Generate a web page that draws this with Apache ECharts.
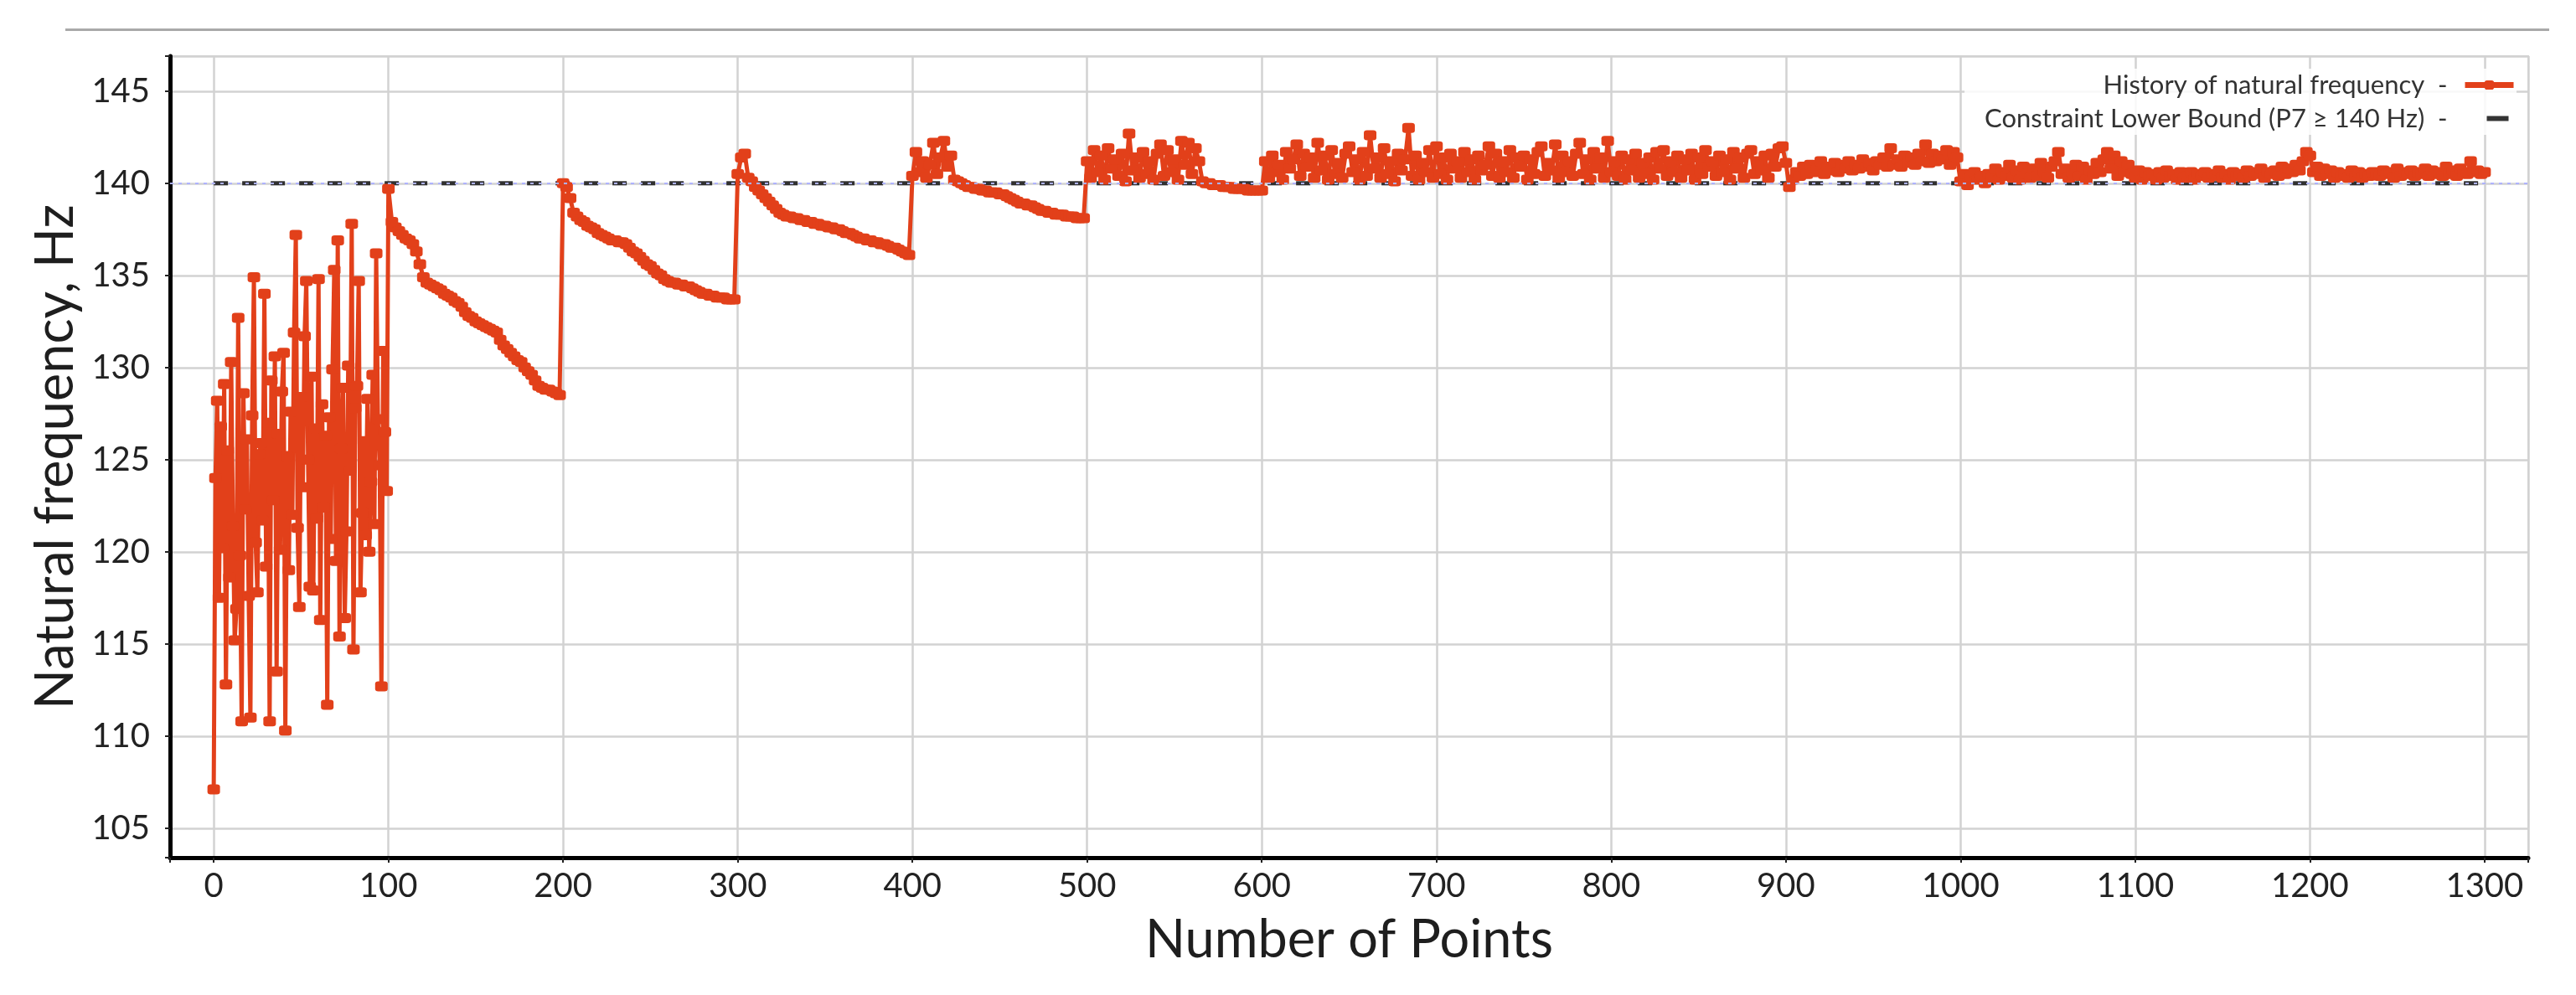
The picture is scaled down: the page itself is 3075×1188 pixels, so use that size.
<!DOCTYPE html>
<html>
<head>
<meta charset="utf-8">
<style>
  html, body { margin: 0; padding: 0; background: #fff; }
  #chart { width: 3075px; height: 1188px; }
  .rule { position: absolute; left: 78px; right: 32px; top: 34px; border-top: 3px solid #a9a9a9; }
</style>
<script src="https://cdn.jsdelivr.net/npm/echarts@6/dist/echarts.min.js"></script>
</head>
<body>
<div id="chart"></div>
<div class="rule"></div>
<script>
    // natural frequency (Hz) per design point
    // points 0..99, every point
    var freqA = [
        107.1, 124.0, 128.2, 117.5, 126.8, 120.2, 129.1, 112.8, 125.5, 118.6,
        130.3, 121.4, 115.2, 116.9, 132.7, 119.8, 110.8, 128.6, 122.3, 126.1,
        117.6, 111.0, 127.4, 134.9, 120.5, 117.8, 125.3, 125.9, 121.7, 134.0,
        119.2, 127.0, 110.8, 129.3, 122.8, 130.6, 113.5, 126.4, 120.1, 128.7,
        130.8, 110.3, 125.2, 119.0, 127.6, 122.0, 131.9, 137.2, 121.3, 117.0,
        128.4, 123.5, 131.7, 134.7, 125.0, 118.1, 129.5, 117.9, 126.7, 121.8,
        134.8, 116.3, 128.0, 122.4, 126.3, 111.7, 127.3, 120.7, 129.9, 135.3,
        119.5, 136.9, 115.4, 125.6, 128.9, 116.4, 121.1, 130.1, 124.4, 137.8,
        114.7, 127.8, 129.0, 134.7, 117.8, 122.1, 126.0, 120.9, 128.3, 120.0,
        123.8, 129.6, 121.5, 136.2, 127.2, 124.7, 112.7, 130.9, 126.5, 123.3
    ];
    // points 100..198, every 2nd point
    var freqB = [
        139.7, 137.9, 137.6, 137.4, 137.2, 137.0, 136.9, 136.7, 136.3, 135.6,
        134.9, 134.6, 134.5, 134.4, 134.3, 134.2, 134.0, 133.9, 133.8, 133.6,
        133.5, 133.3, 133.0, 132.8, 132.7, 132.5, 132.4, 132.3, 132.2, 132.1,
        132.0, 131.9, 131.5, 131.2, 131.0, 130.8, 130.6, 130.4, 130.3, 130.0,
        129.8, 129.6, 129.3, 129.0, 128.9, 128.8, 128.8, 128.7, 128.6, 128.5
    ];
    // points 200..298
    var freqC = [
        140.0, 139.8, 139.2, 138.4, 138.2, 138.0, 137.9, 137.7, 137.6, 137.5,
        137.3, 137.2, 137.1, 137.0, 136.9, 136.9, 136.8, 136.8, 136.7, 136.5,
        136.3, 136.2, 136.0, 135.8, 135.6, 135.5, 135.3, 135.1, 135.0, 134.8,
        134.7, 134.6, 134.6, 134.5, 134.5, 134.4, 134.4, 134.3, 134.2, 134.1,
        134.0, 134.0, 133.9, 133.9, 133.8, 133.8, 133.8, 133.7, 133.7, 133.7
    ];
    // points 300..398
    var freqD = [
        140.5, 141.4, 141.6, 140.3, 140.1, 139.8, 139.6, 139.4, 139.2, 139.0,
        138.8, 138.6, 138.4, 138.3, 138.2, 138.2, 138.1, 138.1, 138.0, 138.0,
        137.9, 137.9, 137.8, 137.8, 137.7, 137.7, 137.6, 137.6, 137.5, 137.5,
        137.4, 137.3, 137.3, 137.2, 137.1, 137.0, 137.0, 136.9, 136.9, 136.8,
        136.8, 136.7, 136.7, 136.6, 136.5, 136.5, 136.4, 136.3, 136.2, 136.1
    ];
    // points 400..498
    var freqE = [
        140.4, 141.7, 140.6, 141.2, 140.3, 141.0, 142.2, 140.5, 141.4, 142.3,
        140.9, 141.5, 140.2, 140.1, 140.0, 139.9, 139.8, 139.8, 139.7, 139.7,
        139.6, 139.6, 139.5, 139.5, 139.5, 139.4, 139.4, 139.3, 139.2, 139.1,
        139.0, 138.9, 138.9, 138.8, 138.8, 138.7, 138.6, 138.5, 138.5, 138.4,
        138.4, 138.3, 138.3, 138.3, 138.2, 138.2, 138.2, 138.1, 138.1, 138.1
    ];
    // points 500..598
    var freqF = [
        141.2, 140.3, 141.8, 140.6, 141.5, 140.2, 141.9, 140.8, 141.3, 140.4,
        141.6, 140.1, 142.7, 140.7, 141.4, 140.3, 141.7, 140.5, 141.2, 140.2,
        141.6, 142.1, 140.4, 141.8, 140.6, 141.3, 140.2, 142.3, 141.0, 142.2,
        140.5, 141.9, 141.2, 140.1, 140.0, 140.0, 139.9, 139.9, 139.9, 139.8,
        139.8, 139.8, 139.7, 139.7, 139.7, 139.7, 139.6, 139.6, 139.6, 139.6
    ];
    // points 600..1300
    var freqG = [
        139.6, 141.2, 140.3, 141.5, 140.6, 141.0, 140.2, 141.7, 140.8, 141.3,
        142.1, 140.4, 141.6, 140.9, 141.4, 140.3, 142.2, 140.7, 141.5, 140.2,
        141.8, 140.5, 141.1, 140.3, 141.6, 142.0, 140.6, 141.3, 140.2, 141.7,
        140.4, 142.6, 140.8, 141.4, 140.3, 141.9, 140.5, 141.2, 140.1, 141.6,
        140.7, 141.3, 143.0, 140.4, 141.5, 140.2, 141.1, 140.6, 141.8, 140.3,
        142.0, 140.5, 141.4, 140.2, 141.6, 140.8, 141.2, 140.3, 141.7, 140.6,
        141.3, 140.2, 141.5, 140.7, 141.0, 142.0, 140.4, 141.6, 140.3, 141.2,
        140.6, 141.8, 140.3, 141.4, 140.9, 141.5, 140.2, 141.3, 140.5, 141.7,
        142.0, 140.4, 141.1, 140.7, 142.1, 140.3, 141.5, 140.6, 141.2, 140.4,
        141.6, 142.2, 140.5, 141.3, 140.2, 141.7, 140.8, 141.4, 140.3, 142.3,
        140.6, 141.2, 140.4, 141.5, 140.2, 141.3, 140.7, 141.6, 140.3, 141.1,
        140.5, 141.4, 140.2, 141.7, 140.8, 141.8, 140.4, 141.2, 140.6, 141.5,
        140.3, 141.3, 140.7, 141.6, 140.2, 141.4, 140.5, 141.8, 140.9, 141.2,
        140.4, 141.5, 140.6, 141.3, 140.2, 141.7, 140.8, 141.4, 140.3, 141.6,
        141.8, 140.5, 141.2, 140.7, 141.5, 140.3, 141.6, 140.9, 141.9, 142.0,
        141.1, 139.8, 140.2, 140.6, 140.4, 140.9, 140.5, 141.0, 140.6, 140.8,
        141.2, 140.5, 140.9, 140.7, 141.1, 140.6, 141.0, 140.8, 141.2, 140.7,
        141.0, 140.8, 141.3, 140.9, 141.1, 140.7, 141.2, 141.0, 141.4, 140.9,
        141.9, 141.0, 141.3, 140.9, 141.5, 141.1, 141.4, 141.0, 141.6, 141.2,
        142.1, 141.1, 141.6, 141.2, 141.5, 141.3, 141.8, 141.0, 141.7, 141.4,
        140.1, 140.5, 139.9, 140.3, 140.6, 140.2, 140.4, 140.0, 140.5, 140.3,
        140.8, 140.2, 140.6, 140.4, 141.0, 140.3, 140.7, 140.2, 140.9, 140.5,
        140.3, 140.8, 140.4, 141.1, 140.6, 140.3, 140.9, 141.2, 141.7, 140.5,
        140.8, 140.3, 140.6, 141.0, 140.4, 140.9, 140.2, 140.7, 140.5, 141.1,
        140.6, 141.3, 141.7, 140.8, 141.5, 140.4, 141.2, 140.6, 141.0, 140.5,
        140.3, 140.7, 140.2, 140.6, 140.4, 140.5, 140.2, 140.6, 140.3, 140.7,
        140.4, 140.5, 140.2, 140.6, 140.3, 140.4, 140.6, 140.2, 140.5, 140.4,
        140.6, 140.3, 140.5, 140.4, 140.7, 140.3, 140.5, 140.2, 140.6, 140.4,
        140.5, 140.3, 140.7, 140.4, 140.6, 140.5, 140.8, 140.3, 140.6, 140.5,
        140.7, 140.4, 140.9, 140.5, 140.8, 140.6, 141.0, 140.7, 141.2, 141.7,
        141.5, 140.6, 140.9, 140.4, 140.8, 140.5, 140.7, 140.3, 140.6, 140.4,
        140.5, 140.3, 140.7, 140.4, 140.6, 140.3, 140.5, 140.4, 140.6, 140.5,
        140.4, 140.7, 140.5, 140.6, 140.3, 140.8, 140.4, 140.6, 140.5, 140.7,
        140.4, 140.6, 140.5, 140.8, 140.4, 140.7, 140.5, 140.6, 140.4, 140.9,
        140.5, 140.7, 140.4, 140.8, 140.6, 140.5, 141.2, 140.6, 140.7, 140.5,
        140.6
    ];
    // first point and spacing of each block
    var blockStart = [0, 100, 200, 300, 400, 500, 600];
    var blockStep = [1, 2, 2, 2, 2, 2, 2];
    var blocks = [freqA, freqB, freqC, freqD, freqE, freqF, freqG];

    // constraint P7 >= 140 Hz
    var boundX = [0, 1300];
    var boundValue = 140;

    var seriesName = 'History of natural frequency';
    var boundName = 'Constraint Lower Bound (P7 \u2265 140 Hz)';

    var freqPoints = [];
    blocks.forEach(function (ys, b) {
        ys.forEach(function (y, i) {
            freqPoints.push([blockStart[b] + i * blockStep[b], y]);
        });
    });
    var boundPoints = boundX.map(function (x) { return [x, boundValue]; });

    var font = 'Lato';
    var red = '#e2401a';
    var chart = echarts.init(document.getElementById('chart'));
    var option = {
        animation: false,
        backgroundColor: '#fff',
        grid: {
            left: 203, right: 57, top: 67, bottom: 164,
            show: true,
            borderColor: '#d4d4d4',
            borderWidth: 2
        },
        legend: {
            orient: 'vertical',
            right: 71,
            top: 82,
            align: 'right',
            itemGap: 9,
            itemWidth: 58,
            itemHeight: 14,
            padding: [4, 0, 4, 24],
            backgroundColor: 'rgba(255,255,255,0.85)',
            textStyle: { fontFamily: font, fontSize: 31, lineHeight: 31, color: '#333' },
            formatter: function (name) { return name + '  -  '; },
            data: [
                { name: seriesName, lineStyle: { width: 7 } },
                { name: boundName, icon: 'path://M0,0 M58,14 M26,4 L52,4 L52,10 L26,10 Z' }
            ]
        },
        xAxis: {
            type: 'value',
            min: -25,
            max: 1325,
            minInterval: 100,
            maxInterval: 100,
            name: 'Number of Points',
            nameLocation: 'middle',
            nameGap: 67,
            nameTextStyle: { fontFamily: font, fontSize: 63, color: '#1e1e1e' },
            axisLine: { onZero: false, lineStyle: { color: '#000', width: 5 } },
            axisTick: { show: true, length: 6, lineStyle: { color: '#222', width: 2 } },
            axisLabel: {
                fontFamily: font, fontSize: 40, color: '#222', margin: 14,
                formatter: function (v) { return v % 100 === 0 ? String(v) : ''; }
            },
            splitLine: { show: true, lineStyle: { color: '#d2d2d2', width: 2.5 } }
        },
        yAxis: {
            type: 'value',
            min: 103.4,
            max: 146.9,
            minInterval: 5,
            maxInterval: 5,
            name: 'Natural frequency, Hz',
            nameLocation: 'middle',
            nameGap: 104,
            nameTextStyle: { fontFamily: font, fontSize: 63, color: '#1e1e1e' },
            axisLine: { show: true, onZero: false, lineStyle: { color: '#000', width: 5 } },
            axisTick: { show: true, length: 6, lineStyle: { color: '#222', width: 2 } },
            axisLabel: {
                fontFamily: font, fontSize: 40, color: '#222', margin: 24,
                formatter: function (v) { return v % 5 === 0 ? String(v) : ''; }
            },
            splitLine: { show: true, lineStyle: { color: '#d2d2d2', width: 2.5 } }
        },
        series: [
            {
                name: boundName,
                type: 'line',
                data: boundPoints,
                symbol: 'none',
                z: 1,
                color: '#333',
                lineStyle: { color: '#303030', width: 5, type: [17, 17] },
                markLine: {
                    silent: true,
                    symbol: 'none',
                    label: { show: false },
                    lineStyle: { color: '#aeb2ff', width: 2, type: [4, 6] },
                    data: [{ yAxis: boundValue }]
                }
            },
            {
                name: seriesName,
                type: 'line',
                data: freqPoints,
                z: 3,
                color: red,
                symbol: 'roundRect',
                symbolSize: [15, 12],
                showAllSymbol: true,
                lineStyle: { color: red, width: 5 },
                itemStyle: { color: red }
            }
        ]
    };
    chart.setOption(option);
</script>
</body>
</html>
